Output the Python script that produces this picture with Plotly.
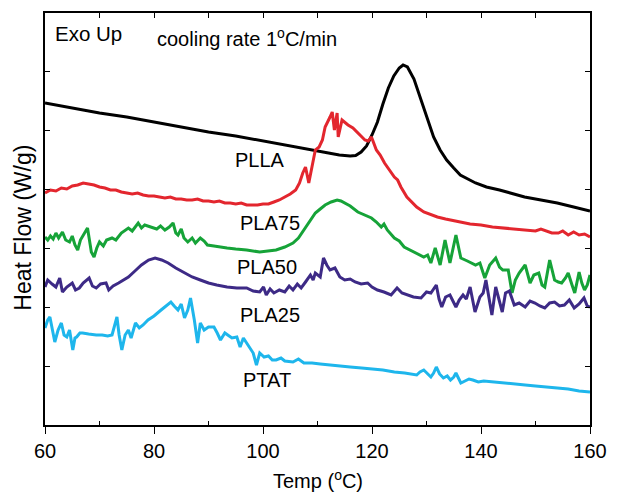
import plotly.graph_objects as go

# ---- data (Heat flow, arbitrary units, Exo Up) ----
plla_T = [60, 65, 70, 75, 80, 85, 90, 95, 100, 105, 108, 110, 112, 114, 116, 117, 118, 119, 120, 121,
          122, 123, 124, 125, 125.7, 126.5, 127.7, 128.5, 129.5, 130.5, 131.3, 132.5, 133.7, 135, 136.2,
          139, 141, 143.4, 146, 148, 151, 154, 157, 160]
plla_H = [322, 317, 312, 308, 303, 298, 293, 289, 284, 279, 276, 274, 272, 270, 269, 269.5, 273, 279, 290, 303,
          321, 337, 349, 357, 360, 358, 346, 333, 318, 302, 288, 275, 265, 257, 250,
          242, 238, 235, 231, 228, 225, 222, 218, 214]

pla75_T = [60, 61, 62, 63, 64, 65, 66, 67, 68, 69, 70, 71, 72, 73, 74, 75, 76, 77, 78, 79, 80, 81, 82, 83,
           84, 85, 86, 87, 88, 89, 90, 91, 92, 93, 94, 95, 96, 97, 98, 99, 100, 101, 102, 103, 104, 105,
           106, 106.7, 107.3, 107.8, 108.4, 109.1, 109.6, 110.3, 110.9, 111.4, 111.8, 112.3, 112.7, 113.1,
           113.6, 113.8, 114.5, 115.6, 116.5, 117.4, 118.7, 119.3, 119.9, 120.8, 121.5, 122.3, 123.2, 124.1,
           124.7, 125.3, 126.4, 127.3, 128.2, 129.5, 130.8, 132, 133.5, 135, 136.2, 138, 140, 142.1, 144,
           146, 148, 150, 151, 152, 153, 154.2, 155, 156, 157, 158, 159, 160]
pla75_H = [232, 235, 234, 237, 236, 239, 240, 242, 241, 240, 238, 237, 235, 235, 233, 232, 231, 232, 230, 229,
           229, 228, 227, 228, 226, 226, 225, 225, 226, 224, 224, 223, 224, 222, 222, 221, 222, 220, 220, 220,
           221, 221, 223, 225, 228, 231, 235, 242, 252, 258, 242, 262, 275, 278, 285, 298, 302, 308, 313,
           295, 312, 288, 305, 300, 297, 292, 285, 284, 288, 275, 270, 262, 255, 248, 245, 238, 228, 223,
           218, 213, 210, 208, 206, 204, 203, 201, 200, 198, 197, 196, 195, 194, 196, 194, 192, 192, 194,
           190, 193, 190, 191, 188]

pla50_T = [60, 60.5, 61, 61.5, 62, 62.5, 63.2, 63.8, 64.5, 65, 65.5, 66, 66.5, 67, 67.8, 68.3, 68.5, 69,
           69.5, 70, 70.7, 71.3, 72.3, 73, 74, 75.3, 76, 77.1, 77.7, 78.3, 79.5, 80.5, 81.2, 82, 82.8, 83.5,
           84, 84.4, 85, 85.5, 86.2, 87, 87.6, 88.5, 89.2, 89.8, 91, 92, 93.4, 95, 97, 99.4, 101, 102.4, 104,
           105.5, 106.5, 107.8, 108.5, 109.6, 110.5, 111.4, 112.5, 113.6, 114.3, 115, 116, 117.4, 118.5,
           119.9, 120.8, 121.7, 122.2, 122.8, 124.1, 125, 125.9, 127, 128.2, 129.5, 130.2, 130.8, 131.6,
           132.5, 133.4, 134.3, 135.4, 136.3, 137.5, 139, 139.8, 140.7, 141.6, 142.7, 143.4, 144, 145, 145.7,
           146.3, 147, 148.1, 149, 149.7, 150.6, 151.2, 151.7, 152.6, 153.5, 154.2, 154.8, 155.5, 156, 156.7,
           157.2, 158, 158.5, 159, 159.5, 160]
pla50_H = [188, 185, 189, 186, 192, 187, 193, 185, 183, 189, 180, 175, 185, 190, 197, 180, 173, 168,
           177, 183, 179, 185, 187, 185, 192, 197, 194, 202, 197, 200, 198, 196, 199, 195, 198, 202,
           192, 190, 196, 187, 183, 187, 182, 187, 184, 180, 179, 178, 177, 176, 175, 173, 174, 175, 178,
           182, 187, 198, 203, 212, 216, 220, 223, 225, 224, 222, 219, 213, 210,
           207, 203, 198, 201, 195, 187, 184, 178, 175, 172, 168, 170, 162, 177,
           160, 185, 162, 190, 167, 164, 160, 162, 147, 160, 167, 158, 155, 155, 132,
           145, 152, 160, 142, 150, 152, 140, 138, 165, 145, 143, 142, 147, 152, 140,
           132, 153, 142, 135, 140, 150]

pla25_T = [60, 60.5, 61.3, 62, 62.7, 63.2, 64, 65, 65.6, 66.3, 67, 68.1, 68.7, 69.4, 70.2, 71.2, 71.7, 72.5,
           73.5, 74.4, 75.3, 76.5, 77.7, 79, 80.2, 81.4, 82.6, 84, 85.6, 87, 88.5, 90, 91.5, 93.4, 95.2, 97,
           98.2, 99.4, 100.1, 100.6, 101.3, 102, 103, 104, 104.8, 105.5, 106.3, 107, 107.8, 108.7, 109.2,
           109.6, 110.5, 111.1, 111.7, 112.3, 113.2, 114.1, 115, 116, 116.9, 118, 119.2, 120, 121, 122.2,
           123.5, 124.6, 125.5, 126.4, 127.6, 129, 130, 130.8, 131.8, 132.3, 132.8, 133.5, 134.3, 135.4, 136,
           136.7, 137.3, 138, 138.9, 139.8, 140.4, 140.9, 141.5, 142, 142.7, 143.3, 143.9, 144.5, 145.2,
           146.1, 147, 148.1, 149, 149.9, 150.8, 151.7, 152.6, 153.5, 154.4, 155.3, 156.2, 157.1, 158, 158.9,
           159.5, 160]
pla25_H = [138, 145, 141, 138, 147, 133, 138, 142, 135, 137, 142, 147, 139, 137, 141, 142, 135, 139,
           142, 145, 148, 154, 160, 165, 167, 165, 162, 157, 152, 148, 145, 142, 140, 138, 137, 137,
           134, 133, 138, 130, 136, 132, 135, 133, 139, 135, 141, 137, 143, 150, 145,
           152, 148, 167, 160, 155, 157, 148, 145, 146, 143, 141, 142, 138, 135, 133,
           130, 137, 132, 130, 128, 127, 133, 132, 140, 126, 118, 128, 130, 118, 125,
           130, 126, 138, 113, 128, 132, 145, 125, 110, 138, 125, 113, 132, 134,
           120, 122, 118, 124, 122, 119, 117, 122, 123, 119, 120, 125, 117, 121, 127,
           119, 118]

ptat_T = [60, 60.5, 60.9, 61.3, 61.8, 62.4, 63, 63.5, 64, 64.5, 65.1, 65.5, 65.8, 66.4, 66.9, 68, 69.4, 70.5,
          71.5, 72.3, 72.8, 73.2, 73.6, 74.1, 74.7, 75.3, 75.8, 76.6, 77.3, 78, 78.9, 80, 81.3, 82.2, 83.1,
          83.7, 84.4, 85, 85.6, 86.2, 86.7, 87.4, 88, 88.5, 89.2, 90, 91, 91.6, 92.2, 93, 94.3, 95.2, 95.8,
          96.4, 97, 97.6, 98.2, 98.8, 99.4, 100.2, 101, 101.7, 102.4, 103.3, 104, 105.5, 106.5, 107.5, 109,
          110.5, 112, 114, 116, 118.1, 120, 122, 124.1, 126, 128.2, 128.8, 129.5, 130.2, 130.8, 131.3, 131.8,
          132.4, 133.1, 133.8, 134.4, 135, 135.4, 136.3, 137, 137.8, 138.5, 139.5, 140.5, 142.1, 144, 146,
          148.1, 150, 152, 154.2, 156, 158, 160]
ptat_H = [97, 105, 108, 95, 83, 95, 102, 90, 88, 95, 75, 87, 88, 92, 92, 91, 90, 90,
          89, 90, 100, 108, 90, 75, 90, 95, 87, 102, 97, 100, 105, 109, 115, 119, 123,
          119, 115, 121, 107, 115, 127, 105, 82, 102, 95, 98, 98, 92, 85, 92, 87, 88, 78,
          87, 82, 77, 72, 60, 72, 68, 69, 65, 65, 67, 64, 63, 66, 62, 62,
          61, 60, 59, 58, 57, 56, 55, 53, 52, 50, 53, 55, 51, 48, 52, 58,
          51, 47, 49, 45, 48, 52, 42, 44, 46, 45, 43, 44, 43, 42, 41,
          40, 39, 38, 37, 36, 34, 33]

series = [
    ("PLLA", plla_T, plla_H, "#000000"),
    ("PLA75", pla75_T, pla75_H, "#E3262E"),
    ("PLA50", pla50_T, pla50_H, "#16A338"),
    ("PLA25", pla25_T, pla25_H, "#3D2A86"),
    ("PTAT", ptat_T, ptat_H, "#1EB6EC"),
]

labels = ["PLLA", "PLA75", "PLA50", "PLA25", "PTAT"]
label_T = [99.5, 101.2, 100.7, 101.2, 100.8]
label_H = [265, 202, 158, 110, 45]

FONT = "Arial, Liberation Sans, sans-serif"

fig = go.Figure()
for name, T, H, col in series:
    fig.add_trace(go.Scatter(x=T, y=H, mode="lines", name=name,
                             line=dict(color=col, width=3), showlegend=False))
# invisible trace for the top axis
fig.add_trace(go.Scatter(x=[60, 160], y=[0, 0], xaxis="x2", mode="lines",
                         line=dict(width=0), opacity=0, showlegend=False, hoverinfo="skip"))

ytick = [i * 412 / 7 for i in range(8)]

fig.update_layout(
    width=619, height=492,
    margin=dict(l=45, r=20, t=13, b=67),
    paper_bgcolor="white", plot_bgcolor="white",
    font=dict(family=FONT, size=20, color="black"),
    xaxis=dict(range=[60, 160], tickvals=[60, 80, 100, 120, 140, 160], ticks="outside", ticklen=7,
               tickwidth=1.2, tickcolor="black", showline=True, linecolor="black", linewidth=1.5,
               showgrid=False, zeroline=False, mirror=False,
               minor=dict(tickvals=[70, 90, 110, 130, 150], ticks="inside", ticklen=4, tickcolor="black"),
               tickfont=dict(size=20)),
    xaxis2=dict(range=[60, 160], overlaying="x", side="top", dtick=10, tick0=60, ticks="inside",
                ticklen=5, tickcolor="black", showline=True, linecolor="black", linewidth=1.5,
                showticklabels=False, showgrid=False, zeroline=False),
    yaxis=dict(range=[0, 412], tickvals=ytick, ticks="inside", ticklen=5, tickcolor="black",
               showticklabels=False, showline=True, linecolor="black", linewidth=1.5, mirror="ticks",
               showgrid=False, zeroline=False),
)

for lab, t, h in zip(labels, label_T, label_H):
    fig.add_annotation(x=t, y=h, text=lab, showarrow=False, font=dict(size=20),
                       xanchor="center", yanchor="middle")

fig.add_annotation(x=61.4, y=392, text="Exo Up", showarrow=False, xanchor="left", yanchor="middle",
                   font=dict(size=20.5))
fig.add_annotation(x=80.2, y=388, text="cooling rate 1<sup>o</sup>C/min", showarrow=False,
                   xanchor="left", yanchor="middle", font=dict(size=20))
fig.add_annotation(x=0.5, y=-0.132, xref="paper", yref="paper", text="Temp (<sup>o</sup>C)",
                   showarrow=False, xanchor="center", yanchor="middle", font=dict(size=20))
fig.add_annotation(x=-0.041, y=0.478, xref="paper", yref="paper", text="Heat Flow (W/g)",
                   showarrow=False, textangle=-90, xanchor="center", yanchor="middle",
                   font=dict(size=23))

fig.write_html("out.html")
